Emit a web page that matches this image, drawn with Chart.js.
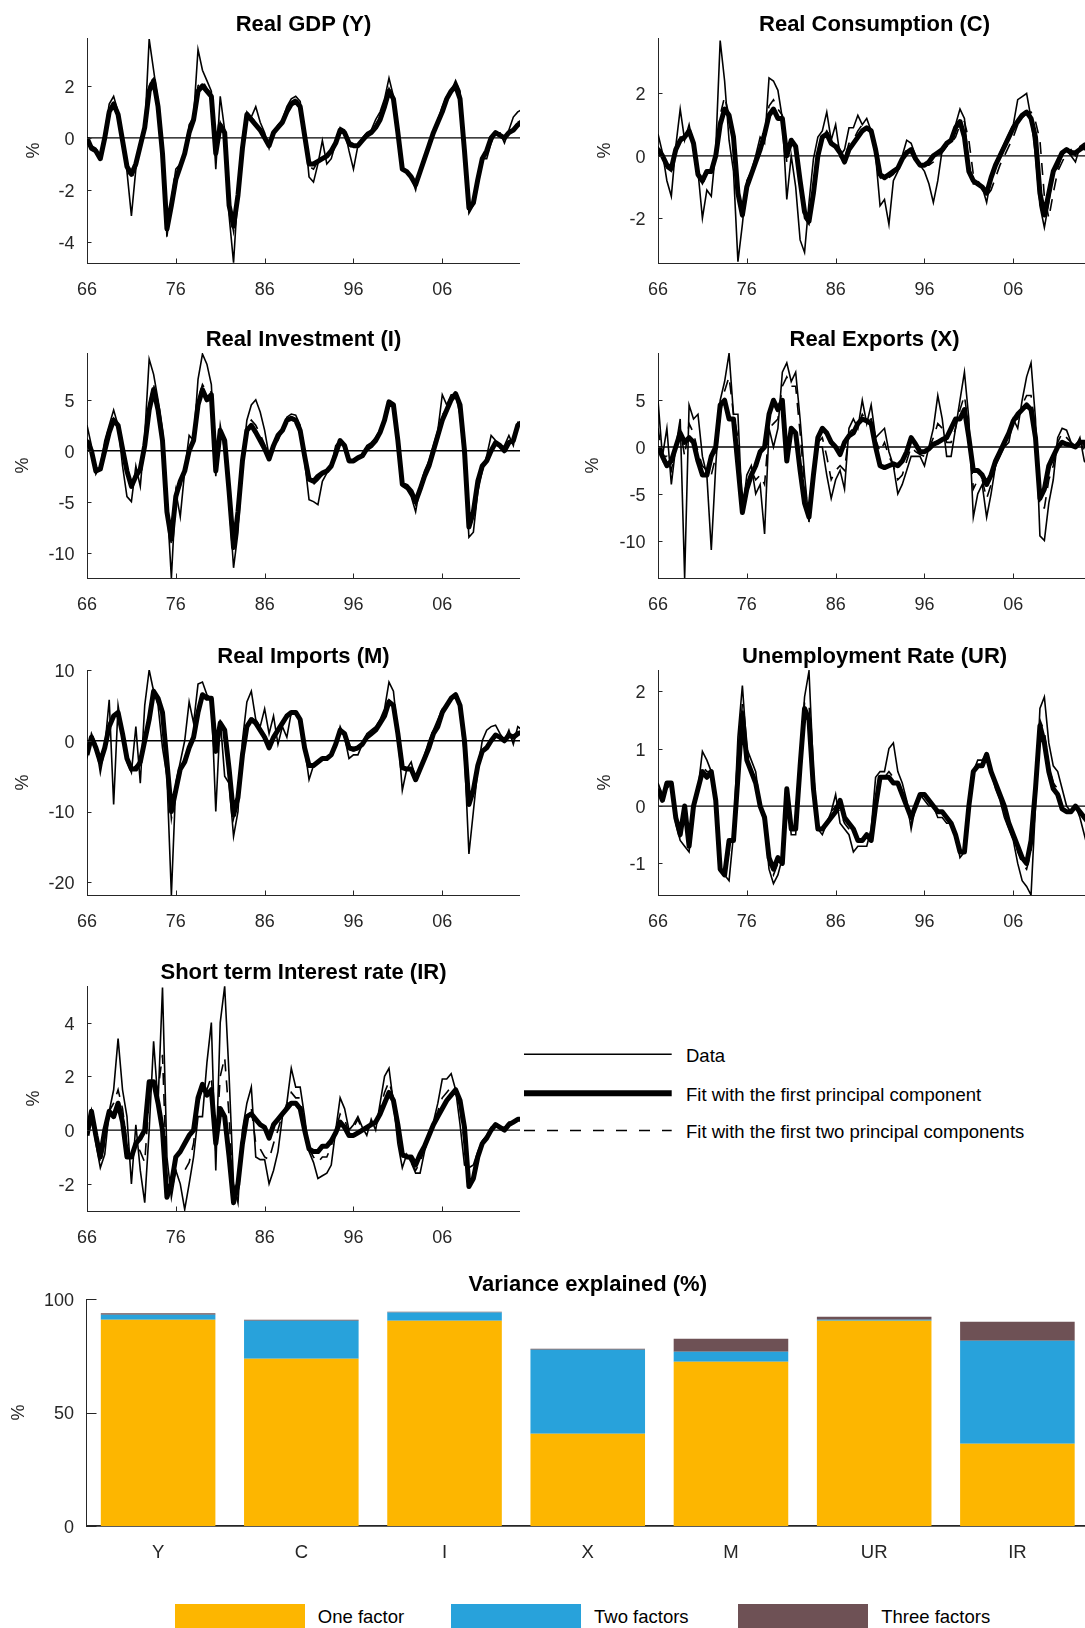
<!DOCTYPE html>
<html>
<head>
<meta charset="utf-8">
<script src="https://cdn.jsdelivr.net/npm/chart.js@4.4.1/dist/chart.umd.min.js"></script>
<style>
  body { margin: 0; width: 1085px; height: 1628px; overflow: hidden; background: #fff; position: relative; font-family: "Liberation Sans", Arial, sans-serif; }
  .panel { position: absolute; }
  .legtext { position: absolute; font-size: 18.5px; color: #000; white-space: nowrap; transform: translateY(-50%); }
  .swatch { position: absolute; }
</style>
</head>
<body>
<svg id="lineLegend" style="position:absolute;left:520px;top:1030px" width="170" height="120"></svg>
<script>
// x axis: half-year steps, 1966 .. 2015
const xTickYears = [1966, 1976, 1986, 1996, 2006];
const xTickLabels = ['66', '76', '86', '96', '06'];
const years = [];
for (let y = 1966; y <= 2015; y += 0.5) years.push(y);

// Real GDP (Y)
const gdpData = [0.0, -0.3, -0.4, -0.8, 0.2, 1.3, 1.6, 1.0, 0.0, -1.3,
  -3.0, -1.2, -0.3, 0.3, 3.8, 2.6, 1.4, -0.5, -3.8, -2.4,
  -1.2, -1.0, -0.6, 0.5, 0.8, 3.4, 2.6, 2.2, 1.8, -1.2,
  1.6, 0.3, -3.0, -4.8, -2.0, 0.0, 1.0, 0.8, 1.2, 0.6,
  0.2, -0.4, 0.2, 0.5, 0.7, 1.2, 1.5, 1.6, 1.4, 0.3,
  -1.5, -1.7, -1.0, -0.1, -1.0, -0.8, -0.2, 0.4, 0.3, -0.5,
  -1.2, -0.3, 0.0, 0.2, 0.3, 0.7, 1.0, 1.5, 2.3, 1.6,
  0.3, -1.2, -1.3, -1.5, -2.0, -1.2, -0.8, -0.3, 0.2, 0.7,
  1.2, 1.6, 1.8, 2.2, 1.8, -0.2, -2.9, -2.6, -1.8, -0.8,
  -0.8, -0.2, 0.2, 0.2, -0.2, 0.3, 0.8, 1.0, 1.1];
const gdpFit1 = [0.0, -0.4, -0.5, -0.8, 0.0, 1.0, 1.3, 0.9, -0.1, -1.1,
  -1.4, -1.0, -0.3, 0.4, 1.8, 2.2, 1.2, -0.6, -3.5, -2.6,
  -1.6, -1.1, -0.6, 0.2, 0.7, 1.8, 2.0, 1.8, 1.6, -0.6,
  0.5, 0.2, -2.6, -3.4, -2.2, -0.4, 0.9, 0.7, 0.5, 0.3,
  0.0, -0.3, 0.2, 0.4, 0.6, 1.0, 1.3, 1.4, 1.2, 0.1,
  -1.0, -1.0, -0.9, -0.8, -0.7, -0.5, -0.2, 0.3, 0.2, -0.2,
  -0.3, -0.3, -0.1, 0.1, 0.2, 0.4, 0.7, 1.2, 1.8, 1.5,
  0.2, -1.2, -1.3, -1.5, -1.8, -1.3, -0.8, -0.3, 0.2, 0.6,
  1.0, 1.5, 1.8, 2.0, 1.5, -0.5, -2.7, -2.5, -1.6, -0.8,
  -0.5, 0.0, 0.2, 0.1, 0.0, 0.2, 0.3, 0.5, 0.6];
const gdpFit2 = [0.0, -0.3, -0.5, -0.8, 0.1, 1.1, 1.4, 0.9, -0.1, -1.2,
  -1.6, -1.1, -0.3, 0.4, 2.0, 2.4, 1.3, -0.6, -3.6, -2.6,
  -1.5, -1.1, -0.6, 0.3, 0.7, 2.0, 2.2, 1.9, 1.7, -0.7,
  0.6, 0.2, -2.7, -3.6, -2.2, -0.3, 0.9, 0.8, 0.6, 0.4,
  0.0, -0.3, 0.2, 0.4, 0.6, 1.1, 1.4, 1.5, 1.2, 0.1,
  -1.1, -1.2, -0.9, -0.7, -0.7, -0.6, -0.2, 0.3, 0.2, -0.3,
  -0.4, -0.3, -0.1, 0.1, 0.2, 0.5, 0.8, 1.3, 1.9, 1.5,
  0.2, -1.2, -1.3, -1.5, -1.9, -1.3, -0.8, -0.3, 0.2, 0.6,
  1.1, 1.5, 1.8, 2.1, 1.6, -0.4, -2.8, -2.5, -1.6, -0.8,
  -0.6, -0.1, 0.2, 0.1, 0.0, 0.2, 0.4, 0.6, 0.7];

// Real Consumption (C)
const consData = [0.7, 0.1, -0.8, -1.3, 0.3, 1.5, 0.5, 1.0, 0.3, -0.5,
  -2.0, -1.1, -1.3, 0.2, 3.7, 2.4, 0.5, -0.5, -3.4, -2.2,
  -0.8, -0.5, 0.0, 0.6, 0.4, 2.5, 2.4, 2.1, 1.2, -1.4,
  0.0, -1.0, -2.7, -3.1, -1.5, -0.1, 0.6, 0.8, 1.4, 0.5,
  1.0, 0.0, 0.2, 0.9, 0.9, 1.3, 1.0, 1.2, 0.8, 0.0,
  -1.6, -1.4, -2.2, -0.8, -0.5, 0.0, 0.5, 0.4, 0.0, -0.3,
  -0.5, -0.9, -1.5, -0.8, 0.2, 0.3, 0.5, 1.0, 1.5, 1.2,
  -0.4, -0.9, -0.9, -1.0, -1.5, -0.7, -0.4, 0.1, 0.4, 0.7,
  1.0, 1.8, 1.9, 2.0, 1.2, 0.0, -1.6, -2.3, -1.5, -0.5,
  -0.4, 0.0, 0.2, 0.0, -0.2, 0.3, 0.4, 0.3, 0.4];
const consFit1 = [0.2, 0.0, -0.3, -0.4, 0.2, 0.5, 0.6, 0.8, 0.4, -0.6,
  -0.8, -0.5, -0.5, 0.0, 1.0, 1.5, 1.3, 0.6, -1.2, -1.9,
  -1.0, -0.6, -0.2, 0.2, 0.7, 1.3, 1.5, 1.2, 1.2, 0.0,
  0.5, 0.3, -0.8, -1.8, -2.1, -1.2, 0.0, 0.6, 0.7, 0.4,
  0.3, 0.1, -0.2, 0.2, 0.4, 0.6, 0.8, 0.9, 0.8, 0.2,
  -0.6, -0.7, -0.6, -0.5, -0.4, -0.1, 0.1, 0.2, -0.1, -0.3,
  -0.3, -0.2, 0.0, 0.1, 0.2, 0.4, 0.5, 0.9, 1.1, 0.6,
  -0.5, -0.8, -0.9, -1.0, -1.2, -0.7, -0.3, 0.0, 0.3, 0.6,
  0.9, 1.1, 1.3, 1.4, 1.2, 0.6, -1.2, -1.9, -1.2, -0.5,
  -0.2, 0.1, 0.2, 0.1, 0.1, 0.2, 0.3, 0.3, 0.4];
const consFit2 = [0.3, 0.0, -0.4, -0.5, 0.2, 0.6, 0.6, 0.8, 0.4, -0.6,
  -0.9, -0.6, -0.6, 0.0, 1.3, 1.9, 1.3, 0.5, -1.4, -2.0,
  -1.0, -0.6, -0.2, 0.2, 0.7, 1.6, 1.8, 1.5, 1.3, -0.2,
  0.4, 0.1, -1.0, -2.0, -2.2, -1.2, 0.0, 0.6, 0.8, 0.5,
  0.5, 0.2, -0.1, 0.4, 0.5, 0.8, 1.0, 1.0, 0.8, 0.2,
  -0.7, -0.8, -0.7, -0.6, -0.4, -0.1, 0.2, 0.3, -0.1, -0.3,
  -0.3, -0.3, -0.2, 0.0, 0.1, 0.3, 0.4, 0.6, 1.0, 1.1,
  0.5, -0.6, -0.8, -1.0, -1.3, -1.1, -0.7, -0.3, 0.0, 0.3,
  0.6, 1.0, 1.2, 1.4, 1.4, 1.1, 0.5, -1.3, -2.0, -1.2,
  -0.5, -0.2, 0.1, 0.2, 0.0, 0.1, 0.2, 0.3, 0.4];

// Real Investment (I)
const invData = [2.5, 0.5, -2.3, -1.5, 1.0, 2.5, 4.0, 2.5, -1.5, -4.5,
  -5.0, -1.5, -3.5, 1.5, 9.0, 7.5, 5.0, 2.0, -5.0, -12.5,
  -4.0, -6.5, -2.0, 1.5, 1.0, 7.0, 9.5, 8.5, 6.5, -2.5,
  2.5, 0.0, -5.0, -11.5, -8.0, -1.0, 3.0, 4.5, 5.0, 3.8,
  2.0, -0.5, 0.5, 1.0, 2.0, 3.3, 3.6, 3.5, 2.5, -1.0,
  -4.8, -5.0, -5.3, -3.0, -2.2, -1.5, 0.5, 1.0, 0.3, -1.0,
  -1.0, -0.8, -0.5, 0.5, 0.8, 1.3, 2.0, 3.2, 4.8, 4.5,
  0.5, -3.5, -3.8, -4.5, -6.0, -3.5, -2.0, -1.0, 0.5, 2.0,
  5.5, 4.5, 5.5, 5.5, 3.5, -1.0, -8.5, -8.0, -4.0, -2.0,
  -0.5, 1.5, 1.0, 0.3, 0.5, 1.5, 0.5, 2.8, 2.8];
const invFit1 = [1.0, 0.0, -2.0, -1.8, 0.0, 1.8, 3.0, 2.5, 0.2, -2.0,
  -3.5, -2.5, -1.8, 0.5, 4.0, 6.0, 4.0, 1.0, -6.0, -8.7,
  -4.5, -3.0, -2.0, 0.0, 1.0, 4.5, 6.0, 5.0, 5.5, -2.0,
  2.0, 1.0, -4.0, -9.5, -6.0, -1.0, 2.0, 2.5, 1.8, 1.0,
  0.2, -0.8, 0.5, 1.5, 2.0, 3.0, 3.2, 3.0, 2.0, -0.5,
  -2.8, -3.0, -2.5, -2.2, -2.0, -1.5, -0.3, 1.0, 0.5, -1.0,
  -1.0, -0.7, -0.5, 0.2, 0.5, 1.0, 1.8, 3.0, 4.8, 4.5,
  1.0, -3.3, -3.5, -4.0, -5.0, -3.8, -2.5, -1.5, 0.0, 1.5,
  3.0, 4.0, 5.0, 5.6, 4.5, 0.0, -7.5, -6.0, -3.0, -1.5,
  -1.0, 0.0, 0.8, 0.5, 0.0, 0.8, 1.0, 2.5, 2.8];
const invFit2 = [1.2, 0.0, -2.0, -1.8, 0.1, 1.9, 3.2, 2.6, 0.0, -2.3,
  -3.7, -2.4, -2.0, 0.6, 4.6, 6.5, 4.3, 1.2, -6.0, -9.2,
  -4.4, -3.5, -1.8, 0.2, 1.0, 5.0, 6.5, 5.8, 5.8, -2.1,
  2.1, 0.8, -4.2, -9.8, -6.3, -1.0, 2.2, 3.0, 2.5, 1.6,
  0.6, -0.8, 0.5, 1.4, 2.0, 3.1, 3.3, 3.1, 2.1, -0.6,
  -3.2, -3.3, -2.9, -2.4, -2.1, -1.5, -0.2, 1.0, 0.5, -1.0,
  -1.0, -0.7, -0.5, 0.3, 0.6, 1.1, 1.9, 3.1, 4.8, 4.5,
  0.9, -3.4, -3.6, -4.2, -5.3, -3.7, -2.4, -1.4, 0.1, 1.6,
  3.5, 4.1, 5.1, 5.6, 4.4, -0.2, -7.8, -6.5, -3.3, -1.6,
  -0.9, 0.3, 0.9, 0.5, 0.1, 0.9, 0.9, 2.6, 2.8];

// Real Exports (X)
const expData = [5.0, -1.0, 2.0, -4.0, 0.0, 3.0, -14.0, 4.5, 3.0, 3.5,
  -1.0, -3.0, -11.0, -2.0, 5.0, 7.0, 10.0, 3.5, 3.5, -7.0,
  -3.0, -2.0, -5.0, -4.0, -9.3, 2.0, 0.0, 2.0, 8.0, 9.0,
  7.0, 8.0, 3.0, -3.0, -8.0, -3.0, 0.0, 0.0, -3.0, -5.5,
  -3.5, -2.5, -4.5, 2.0, 3.0, 2.0, 5.0, 2.5, 4.5, 1.0,
  1.5, 2.0, -0.5, -2.0, -5.0, -4.0, -2.5, -1.0, -1.0, -1.0,
  -2.0, 0.0, 2.0, 5.5, 3.0, -1.0, -1.0, 2.0, 5.0, 8.0,
  3.0, -7.5, -5.0, -4.0, -7.5, -5.0, -2.0, -1.0, 0.0, 0.5,
  3.0, 2.0, 5.0, 7.5, 9.0, 3.0, -9.5, -10.0, -6.0, -3.5,
  1.0, 2.0, 1.8, 0.5, 0.0, 1.0, -1.5, -2.0, -1.0];
const expFit1 = [0.0, -1.0, -2.0, -1.5, 0.0, 1.5, 0.5, 1.0, 0.5, -1.5,
  -3.0, -3.0, -1.0, 0.0, 4.5, 5.0, 3.0, 3.0, -2.0, -7.0,
  -4.5, -3.0, -2.0, -0.5, 0.0, 3.5, 5.0, 4.0, 5.0, -1.5,
  2.0, 1.5, -2.5, -6.0, -7.5, -3.0, 1.0, 2.0, 1.5, 0.5,
  0.0, -0.8, 0.5, 1.2, 1.5, 2.5, 3.0, 2.8, 2.5, 0.0,
  -2.0, -2.2, -2.0, -1.8, -2.0, -1.5, -0.5, 1.0, 0.3, -0.5,
  -0.5, -0.2, 0.3, 0.5, 0.8, 1.0, 2.0, 3.0, 3.0, 4.0,
  1.0, -2.5, -2.5, -3.0, -4.0, -3.0, -1.5, -0.5, 0.5, 1.5,
  2.8, 3.5, 4.0, 4.5, 4.0, 1.0, -5.5, -4.5, -2.0, -1.0,
  0.0, 0.5, 0.3, 0.2, 0.0, 0.5, 0.5, -0.5, -0.5];
const expFit2 = [2.0, -1.0, -1.0, -2.5, 0.0, 2.0, -1.0, 2.5, 1.5, -0.5,
  -2.0, -2.5, -3.0, -1.0, 3.5, 6.0, 7.5, 3.5, 1.0, -6.5,
  -4.0, -2.5, -3.5, -3.0, -4.0, 2.0, 2.5, 3.0, 6.5, 7.5,
  6.5, 6.5, 1.5, -4.0, -7.5, -3.0, 0.5, 1.0, -1.0, -3.5,
  -2.5, -2.0, -2.5, 1.5, 2.0, 2.2, 3.5, 2.8, 3.0, 0.8,
  -0.5, 0.5, -1.0, -2.0, -3.5, -3.0, -1.5, 0.0, -0.5, -0.8,
  -1.0, -0.2, 1.0, 2.5, 2.0, 0.5, 0.5, 2.0, 4.0, 5.5,
  2.0, -4.5, -3.5, -3.5, -5.5, -4.0, -2.0, -0.8, 0.2, 1.0,
  2.8, 3.0, 4.5, 5.5, 5.5, 2.0, -6.5, -6.5, -3.5, -2.0,
  0.5, 1.5, 1.0, 0.5, 0.0, 0.8, -0.5, -1.5, -1.0];

// Real Imports (M)
const impData = [-2.5, 1.0, -0.5, -4.5, -1.0, 5.8, -9.0, 5.0, 1.0, -3.0,
  -4.5, 2.0, -6.0, 5.0, 10.0, 7.0, 5.0, -1.0, -5.0, -21.8,
  -6.0, -3.0, 0.0, 5.5, 2.5, 8.0, 8.3, 6.5, 6.0, -10.0,
  3.0, -5.0, -6.0, -13.5, -10.0, 0.0, 5.5, 7.0, 3.0, 2.0,
  4.5, 1.0, 3.5, -0.5, 2.0, 0.5, 4.0, 3.8, 3.0, -1.0,
  -5.5, -3.5, -3.0, -2.5, -2.5, -2.0, -0.5, 2.0, 0.5, -2.5,
  -2.0, -2.0, -0.5, 1.0, 1.5, 2.0, 3.0, 4.5, 8.3, 7.0,
  1.0, -7.0, -4.0, -3.0, -5.5, -4.0, -2.0, 0.0, 1.5, 3.0,
  4.5, 5.0, 6.0, 6.5, 4.5, -2.0, -16.0, -10.0, -4.0, 0.0,
  1.5, 2.0, 2.2, 1.0, 0.0, 1.5, -0.5, 2.0, 1.5];
const impFit1 = [-2.0, 0.5, -1.0, -3.0, -1.0, 2.0, 3.5, 4.0, 1.0, -2.5,
  -4.0, -4.0, -3.0, 0.0, 3.0, 7.0, 6.0, 4.0, -3.0, -10.0,
  -7.0, -4.0, -3.0, -1.0, 0.5, 4.0, 6.5, 6.0, 6.0, -1.5,
  2.5, 1.5, -4.0, -10.5, -8.0, -2.0, 2.0, 3.0, 2.5, 1.5,
  0.5, -1.0, 0.5, 1.5, 2.5, 3.5, 4.0, 4.0, 3.0, -1.0,
  -3.5, -3.5, -3.0, -2.5, -2.5, -2.0, -0.5, 1.5, 1.0, -1.0,
  -1.2, -1.0, -0.5, 0.5, 1.0, 1.5, 2.5, 3.5, 5.5, 5.0,
  1.0, -3.8, -4.0, -4.0, -5.5, -4.0, -2.5, -1.0, 1.0, 2.0,
  4.0, 5.0, 6.0, 6.5, 5.0, 0.0, -9.0, -7.0, -3.5, -1.5,
  -1.0, 0.0, 0.8, 0.5, 0.0, 0.8, 0.5, 1.0, 1.2];
const impFit2 = [-2.2, 0.7, -0.8, -3.5, -1.0, 2.5, 3.0, 4.0, 1.0, -2.5,
  -4.2, -3.5, -3.5, 0.5, 3.5, 7.2, 6.0, 3.5, -3.2, -11.0,
  -7.0, -4.0, -2.5, -0.5, 0.8, 4.5, 6.8, 6.2, 6.0, -2.0,
  2.5, 1.0, -4.5, -11.0, -8.5, -2.0, 2.2, 3.3, 2.8, 1.7,
  0.8, -0.8, 0.8, 1.3, 2.5, 3.3, 4.0, 4.0, 3.0, -1.0,
  -3.7, -3.5, -3.0, -2.5, -2.5, -2.0, -0.5, 1.6, 1.0, -1.2,
  -1.4, -1.2, -0.5, 0.6, 1.1, 1.6, 2.6, 3.7, 5.8, 5.2,
  1.0, -4.2, -4.0, -3.8, -5.5, -4.0, -2.4, -0.8, 1.1, 2.2,
  4.1, 5.0, 6.0, 6.5, 4.9, -0.3, -9.5, -7.3, -3.6, -1.3,
  -0.8, 0.2, 0.9, 0.6, 0.0, 0.9, 0.4, 1.2, 1.3];

// Unemployment Rate (UR)
const urData = [0.4, 0.2, 0.3, 0.4, -0.3, -0.6, -0.7, -0.8, 0.0, 0.3,
  0.95, 0.8, 0.6, 0.2, -1.1, -1.2, -1.3, -0.5, 1.2, 2.1,
  1.0, 0.8, 0.6, 0.0, -0.3, -1.1, -1.35, -1.2, -0.9, 0.3,
  -0.5, -0.5, 0.8, 1.9, 2.35, 0.6, -0.4, -0.5, -0.3, -0.1,
  0.2, -0.3, -0.4, -0.5, -0.8, -0.7, -0.7, -0.7, -0.4, 0.5,
  0.6, 0.6, 1.0, 1.1, 0.6, 0.4, 0.1, -0.4, 0.0, 0.2,
  0.1, 0.0, 0.0, -0.2, -0.2, -0.3, -0.3, -0.5, -0.9, -0.8,
  0.0, 0.6, 0.8, 0.8, 0.9, 0.6, 0.3, 0.1, -0.2, -0.4,
  -0.6, -1.0, -1.3, -1.4, -1.55, 0.0, 1.7, 1.9, 1.1, 0.7,
  0.6, 0.3, 0.0, -0.1, 0.0, -0.2, -0.5, -0.8, -1.0];
const urFit1 = [0.3, 0.1, 0.4, 0.4, -0.2, -0.5, 0.0, -0.7, 0.0, 0.3,
  0.6, 0.5, 0.6, 0.1, -1.1, -1.2, -0.6, -0.6, 0.5, 1.6,
  0.8, 0.6, 0.4, 0.0, -0.2, -0.9, -1.1, -0.9, -1.0, 0.3,
  -0.4, -0.4, 0.7, 1.7, 1.5, 0.3, -0.4, -0.4, -0.3, -0.2,
  -0.1, 0.1, -0.2, -0.3, -0.4, -0.6, -0.6, -0.5, -0.6, 0.0,
  0.5, 0.5, 0.5, 0.4, 0.4, 0.2, 0.0, -0.2, 0.0, 0.2,
  0.2, 0.1, 0.0, -0.1, -0.1, -0.2, -0.3, -0.5, -0.8, -0.8,
  0.0, 0.6, 0.7, 0.7, 0.9, 0.6, 0.4, 0.2, 0.0, -0.3,
  -0.5, -0.7, -0.9, -1.0, -0.6, 0.3, 1.4, 1.1, 0.6, 0.3,
  0.2, -0.05, -0.1, -0.1, 0.0, -0.1, -0.2, -0.3, -0.4];
const urFit2 = [0.3, 0.1, 0.4, 0.4, -0.2, -0.5, -0.1, -0.7, 0.0, 0.3,
  0.7, 0.6, 0.6, 0.1, -1.1, -1.2, -0.8, -0.5, 0.6, 1.8,
  0.8, 0.6, 0.4, 0.0, -0.2, -1.0, -1.2, -1.0, -1.0, 0.3,
  -0.4, -0.4, 0.7, 1.8, 1.8, 0.3, -0.4, -0.4, -0.3, -0.1,
  0.0, -0.1, -0.3, -0.4, -0.5, -0.6, -0.6, -0.6, -0.5, 0.1,
  0.5, 0.5, 0.6, 0.5, 0.4, 0.2, 0.0, -0.3, 0.0, 0.2,
  0.2, 0.1, 0.0, -0.1, -0.1, -0.2, -0.3, -0.5, -0.8, -0.8,
  0.0, 0.6, 0.7, 0.7, 0.9, 0.6, 0.4, 0.2, 0.0, -0.3,
  -0.5, -0.8, -1.0, -1.1, -0.8, 0.3, 1.5, 1.3, 0.7, 0.4,
  0.3, 0.0, -0.1, -0.1, 0.0, -0.1, -0.2, -0.3, -0.5];

// Short term Interest rate (IR)
const irData = [-0.2, 0.7, -0.5, -1.4, -0.9, 0.7, 1.5, 3.4, 1.5, 0.5,
  -2.0, 0.2, -1.5, -2.7, 0.0, 3.3, 1.0, 5.3, -1.0, -2.5,
  -1.5, -2.0, -2.95, -2.0, -1.0, 0.5, 0.5, 2.5, 4.0, -1.5,
  4.0, 5.35, 2.0, -2.0, -2.7, 0.0, 1.0, 1.6, -1.0, -1.1,
  -1.1, -2.0, -1.5, -0.8, 0.5, 1.0, 2.3, 1.6, 1.6, 0.5,
  -0.8, -1.2, -1.8, -1.7, -1.6, -1.3, 0.0, 1.2, 0.8, 0.0,
  0.2, 0.5, 0.1, -0.2, 0.4, 0.0, 1.0, 2.0, 2.3, 1.0,
  -0.5, -1.4, -0.9, -1.2, -1.6, -1.6, -0.8, -0.2, 0.3, 1.0,
  1.9, 1.9, 2.1, 1.5, 0.2, -1.3, -1.4, -1.3, -0.8, -0.4,
  -0.2, 0.1, 0.2, 0.1, 0.1, 0.3, 0.3, 0.4, 0.4];
const irFit1 = [-0.2, 0.7, -0.2, -1.0, 0.0, 0.7, 0.5, 1.0, 0.3, -1.0,
  -1.0, -0.5, -0.3, 0.0, 1.8, 1.8, 1.0, 0.0, -2.5, -2.0,
  -1.0, -0.8, -0.5, -0.2, 0.0, 1.2, 1.7, 1.3, 1.5, -0.5,
  0.8, 0.5, -1.0, -2.7, -2.0, -0.5, 0.5, 0.6, 0.4, 0.2,
  0.1, -0.3, 0.2, 0.4, 0.6, 0.8, 1.0, 1.0, 0.8, 0.0,
  -0.7, -0.8, -0.8, -0.6, -0.6, -0.4, -0.1, 0.3, 0.1, -0.2,
  -0.2, -0.1, 0.0, 0.1, 0.2, 0.3, 0.6, 1.0, 1.4, 1.1,
  0.2, -0.9, -1.0, -1.0, -1.3, -0.9, -0.6, -0.2, 0.2, 0.5,
  0.8, 1.1, 1.3, 1.5, 1.1, 0.1, -2.1, -1.8, -1.0, -0.5,
  -0.3, 0.0, 0.2, 0.1, 0.0, 0.2, 0.3, 0.4, 0.4];
const irFit2 = [-0.2, 0.7, -0.3, -1.2, -0.5, 0.7, 1.0, 1.5, 0.8, -0.5,
  -1.2, -0.5, -0.8, -1.2, 1.2, 2.0, 1.5, 2.8, -2.0, -2.2,
  -1.5, -1.5, -1.5, -1.2, -0.5, 1.0, 1.5, 1.5, 2.0, -0.8,
  2.0, 2.7, 0.5, -2.5, -2.3, -0.5, 0.6, 0.8, -0.5, -0.7,
  -1.0, -1.1, -0.5, 0.0, 0.6, 0.9, 1.4, 1.2, 1.2, 0.2,
  -0.7, -1.0, -1.2, -1.0, -1.0, -0.6, 0.0, 0.6, 0.4, -0.1,
  0.1, 0.4, 0.0, 0.0, 0.2, 0.2, 0.8, 1.4, 1.8, 1.2,
  0.0, -1.0, -1.0, -1.2, -1.5, -1.2, -0.7, -0.2, 0.3, 0.7,
  1.2, 1.4, 1.6, 1.5, 0.8, -0.5, -2.0, -1.6, -0.9, -0.5,
  -0.2, 0.0, 0.2, 0.1, 0.0, 0.2, 0.3, 0.4, 0.4];

// Variance explained (%), cumulative
const varCategories = ['Y', 'C', 'I', 'X', 'M', 'UR', 'IR'];
const oneFactor = [90.9, 73.7, 90.4, 40.6, 72.4, 90.4, 36.2];
const twoFactors = [93.1, 90.4, 94.0, 77.6, 76.8, 90.9, 81.6];
const threeFactors = [93.7, 90.9, 94.4, 78.1, 82.5, 92.2, 90.0];
const factorLabels = ['One factor', 'Two factors', 'Three factors'];
const factorColors = ['#FDB600', '#28A2DB', '#6E5155'];

const seriesLabels = ['Data', 'Fit with the first principal component', 'Fit with the first two principal components'];

Chart.defaults.font.family = '"Liberation Sans", Arial, sans-serif';
Chart.defaults.color = '#262626';

const AXIS = '#262626';
const TOP_PAD = 36, BOTTOM_H = 45, PLOT_W = 433, PLOT_H = 225;
const cols = [{ box: 0, axis: 87 }, { box: 560, axis: 658 }];
const rowTops = [38, 353, 670, 986];

const panels = [
  { title: 'Real GDP (Y)', col: 0, row: 0, data: gdpData, fit1: gdpFit1, fit2: gdpFit2, range: [-4.81, 3.84], ticks: [-4, -2, 0, 2], pctX: 34.4 },
  { title: 'Real Consumption (C)', col: 1, row: 0, data: consData, fit1: consFit1, fit2: consFit2, range: [-3.44, 3.78], ticks: [-2, 0, 2], pctX: 45.2 },
  { title: 'Real Investment (I)', col: 0, row: 1, data: invData, fit1: invFit1, fit2: invFit2, range: [-12.5, 9.6], ticks: [-10, -5, 0, 5], pctX: 23.4 },
  { title: 'Real Exports (X)', col: 1, row: 1, data: expData, fit1: expFit1, fit2: expFit2, range: [-14.0, 10.05], ticks: [-10, -5, 0, 5], pctX: 33.5 },
  { title: 'Real Imports (M)', col: 0, row: 2, data: impData, fit1: impFit1, fit2: impFit2, range: [-21.8, 10.0], ticks: [-20, -10, 0, 10], pctX: 23.4 },
  { title: 'Unemployment Rate (UR)', col: 1, row: 2, data: urData, fit1: urFit1, fit2: urFit2, range: [-1.55, 2.37], ticks: [-1, 0, 1, 2], pctX: 45.2 },
  { title: 'Short term Interest rate (IR)', col: 0, row: 3, data: irData, fit1: irFit1, fit2: irFit2, range: [-3.01, 5.36], ticks: [-2, 0, 2, 4], pctX: 34.4 }
];

// titles, zero line and inward tick marks (matlab style)
const panelDecor = {
  id: 'panelDecor',
  beforeDatasetsDraw(chart, args, opts) {
    if (!opts.zeroLine) return;
    const { ctx, chartArea: a, scales: { y } } = chart;
    const py = y.getPixelForValue(0);
    ctx.save();
    ctx.strokeStyle = '#000';
    ctx.lineWidth = 1.3;
    ctx.beginPath();
    ctx.moveTo(a.left, py);
    ctx.lineTo(a.right, py);
    ctx.stroke();
    ctx.restore();
  },
  afterDraw(chart, args, opts) {
    const { ctx, chartArea: a, scales: { x, y } } = chart;
    ctx.save();
    ctx.strokeStyle = AXIS;
    ctx.lineWidth = 1;
    y.ticks.forEach(t => {
      const py = Math.round(y.getPixelForValue(t.value)) + 0.5;
      ctx.beginPath();
      ctx.moveTo(a.left, py);
      ctx.lineTo(a.left + opts.tickLen, py);
      ctx.stroke();
    });
    if (opts.xTicks) {
      x.ticks.forEach(t => {
        const px = Math.round(x.getPixelForValue(t.value)) + 0.5;
        ctx.beginPath();
        ctx.moveTo(px, a.bottom);
        ctx.lineTo(px, a.bottom - opts.tickLen);
        ctx.stroke();
      });
    }
    ctx.fillStyle = '#000';
    ctx.font = 'bold 22px "Liberation Sans", Arial, sans-serif';
    ctx.textAlign = 'center';
    ctx.textBaseline = 'middle';
    ctx.fillText(opts.title, (a.left + a.right) / 2, a.top - opts.titleGap);
    ctx.restore();
  }
};

function makeBox(left, top, width, height) {
  const div = document.createElement('div');
  div.className = 'panel';
  div.style.left = left + 'px';
  div.style.top = top + 'px';
  div.style.width = width + 'px';
  div.style.height = height + 'px';
  const canvas = document.createElement('canvas');
  div.appendChild(canvas);
  document.body.appendChild(div);
  return canvas;
}

const toXY = vals => vals.map((v, i) => ({ x: years[i], y: v }));

panels.forEach(p => {
  const col = cols[p.col];
  const top = rowTops[p.row];
  const canvas = makeBox(col.box, top - TOP_PAD, col.axis + PLOT_W - col.box, TOP_PAD + PLOT_H + BOTTOM_H);
  new Chart(canvas, {
    type: 'line',
    data: {
      datasets: [
        { label: seriesLabels[0], data: toXY(p.data), borderColor: '#000', borderWidth: 1.6, pointRadius: 0, tension: 0, order: 3 },
        { label: seriesLabels[1], data: toXY(p.fit1), borderColor: '#000', borderWidth: 5, pointRadius: 0, tension: 0, borderJoinStyle: 'round', order: 2 },
        { label: seriesLabels[2], data: toXY(p.fit2), borderColor: '#000', borderWidth: 1.6, borderDash: [12, 9], pointRadius: 0, tension: 0, order: 1 }
      ]
    },
    options: {
      animation: false,
      responsive: true,
      maintainAspectRatio: false,
      layout: { padding: { top: TOP_PAD, left: 0, right: 0, bottom: 0 } },
      plugins: {
        legend: { display: false },
        tooltip: { enabled: false },
        panelDecor: { title: p.title, zeroLine: true, xTicks: true, tickLen: 4.5, titleGap: 13 }
      },
      scales: {
        x: {
          type: 'linear',
          min: 1966,
          max: 2014.75,
          grid: { display: false, drawTicks: false },
          border: { color: AXIS, width: 1 },
          afterBuildTicks: s => { s.ticks = xTickYears.map(v => ({ value: v })); },
          afterFit: s => { s.height = BOTTOM_H; },
          ticks: {
            font: { size: 18 }, color: AXIS, padding: 16, maxRotation: 0, autoSkip: false,
            callback: v => xTickLabels[xTickYears.indexOf(v)]
          }
        },
        y: {
          min: p.range[0],
          max: p.range[1],
          grid: { display: false, drawTicks: false },
          border: { color: AXIS, width: 1 },
          afterBuildTicks: s => { s.ticks = p.ticks.map(v => ({ value: v })); },
          afterFit: s => { s.width = col.axis - col.box; },
          ticks: { font: { size: 18 }, color: AXIS, padding: 12.5, labelOffset: 2 },
          title: { display: true, text: '%', font: { size: 18 }, color: AXIS, padding: { top: p.pctX - 10.8, bottom: 0 } }
        }
      }
    },
    plugins: [panelDecor]
  });
});

// legend for the line panels
const svgNS = 'http://www.w3.org/2000/svg';
const legSvg = document.getElementById('lineLegend');
const legRows = [1054.3, 1093.3, 1130.5];
const legTextRows = [1055.5, 1095, 1132];
const legWidths = [1.6, 6, 1.6];
const legDash = [null, null, '11 12'];
seriesLabels.forEach((label, i) => {
  const line = document.createElementNS(svgNS, 'line');
  line.setAttribute('x1', 4);
  line.setAttribute('x2', 151.7);
  line.setAttribute('y1', legRows[i] - 1030);
  line.setAttribute('y2', legRows[i] - 1030);
  line.setAttribute('stroke', '#000');
  line.setAttribute('stroke-width', legWidths[i]);
  if (legDash[i]) line.setAttribute('stroke-dasharray', legDash[i]);
  legSvg.appendChild(line);
  const t = document.createElement('div');
  t.className = 'legtext';
  t.style.left = '686px';
  t.style.top = legTextRows[i] + 'px';
  t.textContent = label;
  document.body.appendChild(t);
});

// variance explained bar chart
const barTop = 1299, barH = 227;
const barCanvas = makeBox(0, barTop - TOP_PAD, 1089, TOP_PAD + barH + BOTTOM_H);
new Chart(barCanvas, {
  type: 'bar',
  data: {
    labels: varCategories,
    datasets: [
      { label: factorLabels[0], data: oneFactor, backgroundColor: factorColors[0] },
      { label: factorLabels[1], data: twoFactors.map((v, i) => v - oneFactor[i]), backgroundColor: factorColors[1] },
      { label: factorLabels[2], data: threeFactors.map((v, i) => v - twoFactors[i]), backgroundColor: factorColors[2] }
    ]
  },
  options: {
    animation: false,
    responsive: true,
    maintainAspectRatio: false,
    layout: { padding: { top: TOP_PAD, left: 0, right: 0, bottom: 0 } },
    barPercentage: 0.8,
    categoryPercentage: 1.0,
    plugins: {
      legend: { display: false },
      tooltip: { enabled: false },
      panelDecor: { title: 'Variance explained (%)', zeroLine: false, xTicks: false, tickLen: 10, titleGap: 14 }
    },
    scales: {
      x: {
        stacked: true,
        grid: { display: false, drawTicks: false },
        border: { color: AXIS, width: 1.8 },
        afterFit: s => { s.height = BOTTOM_H; },
        ticks: { font: { size: 18.5 }, color: AXIS, padding: 16 }
      },
      y: {
        stacked: true,
        min: 0,
        max: 100,
        grid: { display: false, drawTicks: false },
        border: { color: AXIS, width: 1 },
        afterBuildTicks: s => { s.ticks = [0, 50, 100].map(v => ({ value: v })); },
        afterFit: s => { s.width = 86.5; },
        ticks: { font: { size: 18 }, color: AXIS, padding: 12.5, labelOffset: 2 },
        title: { display: true, text: '%', font: { size: 18 }, color: AXIS, padding: { top: 19.4 - 10.8, bottom: 0 } }
      }
    }
  },
  plugins: [panelDecor]
});

// legend for the bar chart
const boxLefts = [175, 451.2, 738.4];
factorLabels.forEach((label, i) => {
  const sw = document.createElement('div');
  sw.className = 'swatch';
  sw.style.left = boxLefts[i] + 'px';
  sw.style.top = '1604px';
  sw.style.width = '129.5px';
  sw.style.height = '30px';
  sw.style.background = factorColors[i];
  document.body.appendChild(sw);
  const t = document.createElement('div');
  t.className = 'legtext';
  t.style.left = (boxLefts[i] + 142.8) + 'px';
  t.style.top = '1617px';
  t.textContent = label;
  document.body.appendChild(t);
});
</script>
</body>
</html>
